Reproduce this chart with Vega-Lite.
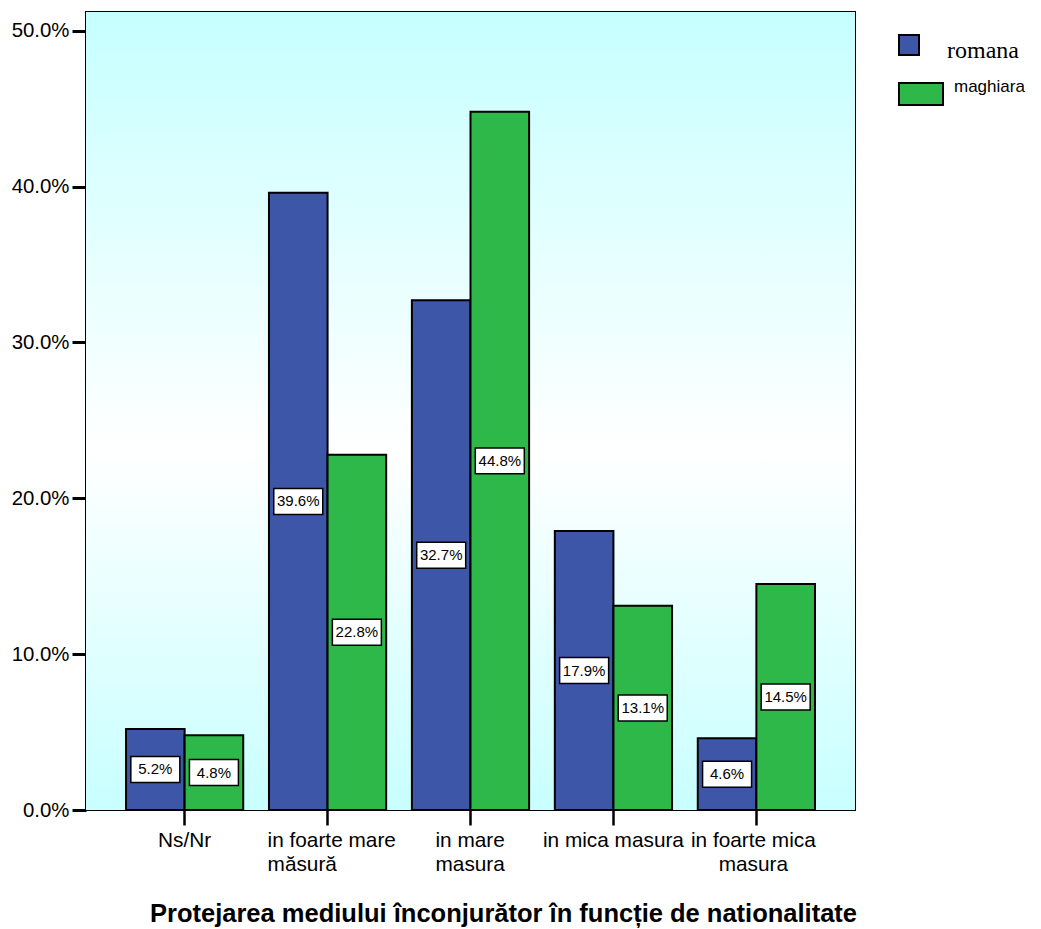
{
  "$schema": "https://vega.github.io/schema/vega-lite/v6.json",
  "width": 769,
  "height": 798,
  "autosize": {"type": "none"},
  "padding": {"left": 86, "top": 12, "right": 186, "bottom": 119},
  "background": "white",
  "config": {
    "view": {"stroke": "black", "strokeWidth": 2},
    "font": "Liberation Sans"
  },
  "datasets": {
    "main": [
      {"cat": "Ns/Nr", "nat": "romana", "value": 0.052},
      {"cat": "Ns/Nr", "nat": "maghiara", "value": 0.048},
      {"cat": "in foarte mare măsură", "nat": "romana", "value": 0.396},
      {"cat": "in foarte mare măsură", "nat": "maghiara", "value": 0.228},
      {"cat": "in mare masura", "nat": "romana", "value": 0.327},
      {"cat": "in mare masura", "nat": "maghiara", "value": 0.448},
      {"cat": "in mica masura", "nat": "romana", "value": 0.179},
      {"cat": "in mica masura", "nat": "maghiara", "value": 0.131},
      {"cat": "in foarte mica masura", "nat": "romana", "value": 0.046},
      {"cat": "in foarte mica masura", "nat": "maghiara", "value": 0.145}
    ]
  },
  "layer": [
    {
      "data": {"values": [{"bg": 1}]},
      "mark": {
        "type": "rect",
        "fill": {
          "gradient": "linear",
          "x1": 0, "y1": 0, "x2": 0, "y2": 1,
          "stops": [
            {"offset": 0, "color": "#c6ffff"},
            {"offset": 0.55, "color": "#ffffff"},
            {"offset": 1, "color": "#c8ffff"}
          ]
        }
      },
      "encoding": {
        "y": {"datum": 0, "type": "quantitative"},
        "y2": {"datum": 0.512}
      }
    },
    {
      "data": {"name": "main"},
      "mark": {"type": "bar", "stroke": "black", "strokeWidth": 2},
      "encoding": {
        "x": {
          "field": "cat",
          "type": "nominal",
          "sort": ["Ns/Nr", "in foarte mare măsură", "in mare masura", "in mica masura", "in foarte mica masura"],
          "scale": {"paddingInner": 0.18, "paddingOuter": 0.28},
          "axis": {
            "title": "Protejarea mediului înconjurător în funcție de nationalitate",
            "titleFontSize": 25.5,
            "titleFontWeight": "bold",
            "titleColor": "black",
            "titleX": 417,
            "titleY": 111,
            "titleAlign": "center",
            "titleBaseline": "alphabetic",
            "domain": false,
            "grid": false,
            "tickSize": 15,
            "tickWidth": 2.5,
            "tickColor": "black",
            "labelAngle": 0,
            "labelFontSize": 20.8,
            "labelColor": "black",
            "labelPadding": 5,
            "labelLineHeight": 24,
            "labelOverlap": false,
            "labelBound": false,
            "labelExpr": "datum.value === 'in foarte mare măsură' ? ['in foarte mare', 'măsură'] : datum.value === 'in mare masura' ? ['in mare', 'masura'] : datum.value === 'in foarte mica masura' ? ['in foarte mica', 'masura'] : datum.value",
            "labelAlign": {
              "condition": {"test": "datum.value === 'in foarte mare măsură' || datum.value === 'in mare masura'", "value": "left"},
              "value": "center"
            },
            "labelOffset": {
              "condition": [
                {"test": "datum.value === 'in foarte mare măsură'", "value": -60},
                {"test": "datum.value === 'in mare masura'", "value": -35},
                {"test": "datum.value === 'in foarte mica masura'", "value": -3}
              ],
              "value": 0
            }
          }
        },
        "xOffset": {"field": "nat", "type": "nominal", "sort": ["romana", "maghiara"]},
        "y": {
          "field": "value",
          "type": "quantitative",
          "scale": {"domain": [0, 0.512], "nice": false},
          "axis": {
            "title": null,
            "values": [0, 0.1, 0.2, 0.3, 0.4, 0.5],
            "format": ".1%",
            "domain": false,
            "grid": false,
            "tickSize": 14,
            "tickWidth": 3,
            "tickColor": "black",
            "labelFontSize": 20.4,
            "labelColor": "black",
            "labelPadding": 3
          }
        },
        "color": {
          "field": "nat",
          "type": "nominal",
          "scale": {"domain": ["romana", "maghiara"], "range": ["#3e56a8", "#2fb84a"]},
          "legend": {
            "title": null,
            "orient": "none",
            "legendX": 812,
            "legendY": 10,
            "padding": 0,
            "symbolSize": 1936,
            "symbolStrokeColor": "black",
            "symbolStrokeWidth": 2,
            "symbolOpacity": 1,
            "rowPadding": 8,
            "labelOffset": 3,
            "labelColor": "black",
            "labelBaseline": "alphabetic",
            "encode": {
              "symbols": {
                "update": {
                  "shape": {"signal": "datum.value === 'romana' ? 'M-1,-0.4545H-0.0909V0.4545H-1Z' : 'M-1,-0.5H1V0.5H-1Z'"}
                }
              },
              "labels": {
                "update": {
                  "font": {"signal": "datum.value === 'romana' ? 'Liberation Serif' : 'Liberation Sans'"},
                  "fontSize": {"signal": "datum.value === 'romana' ? 24 : 17"},
                  "dx": {"signal": "datum.value === 'romana' ? 0 : 7"},
                  "dy": {"signal": "datum.value === 'romana' ? 13 : -2"}
                }
              }
            }
          }
        }
      }
    },
    {
      "data": {"name": "main"},
      "transform": [{"calculate": "datum.value / 2", "as": "mid"}],
      "mark": {
        "type": "point",
        "shape": "M-1,-0.53H1V0.53H-1Z",
        "filled": true,
        "fill": "white",
        "stroke": "black",
        "strokeWidth": 1.5,
        "opacity": 1,
        "size": 2401
      },
      "encoding": {
        "x": {"field": "cat", "type": "nominal", "sort": ["Ns/Nr", "in foarte mare măsură", "in mare masura", "in mica masura", "in foarte mica masura"]},
        "xOffset": {"field": "nat", "type": "nominal", "sort": ["romana", "maghiara"]},
        "y": {"field": "mid", "type": "quantitative"}
      }
    },
    {
      "data": {"name": "main"},
      "transform": [{"calculate": "datum.value / 2", "as": "mid"}],
      "mark": {"type": "text", "fontSize": 15, "color": "black", "baseline": "middle", "align": "center"},
      "encoding": {
        "x": {"field": "cat", "type": "nominal", "sort": ["Ns/Nr", "in foarte mare măsură", "in mare masura", "in mica masura", "in foarte mica masura"]},
        "xOffset": {"field": "nat", "type": "nominal", "sort": ["romana", "maghiara"]},
        "y": {"field": "mid", "type": "quantitative"},
        "text": {"field": "value", "type": "quantitative", "format": ".1%"}
      }
    }
  ]
}
